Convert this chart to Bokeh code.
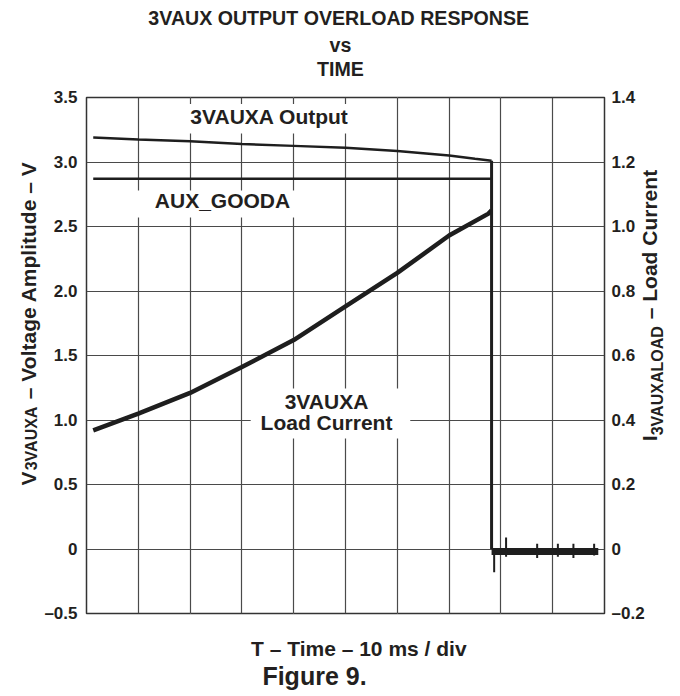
import math
from bokeh.plotting import figure
from bokeh.models import Range1d, LinearAxis, FixedTicker, Label, BoxAnnotation, Grid, Title
from bokeh.embed import file_html
from bokeh.resources import INLINE

# ---------------- data ----------------
# time in divisions (10 ms / div)
t_out = [0.13, 1.0, 2.0, 3.0, 4.0, 5.0, 6.0, 7.0, 7.5, 7.82]
v_out = [3.19, 3.175, 3.16, 3.14, 3.125, 3.11, 3.085, 3.05, 3.025, 3.01]

t_good = [0.13, 2.0, 4.0, 6.0, 7.82]
v_good = [2.87, 2.87, 2.87, 2.87, 2.87]

t_cur = [0.13, 1.0, 2.0, 3.0, 4.0, 5.0, 6.0, 7.0, 7.76, 7.82]
i_cur = [0.368, 0.42, 0.484, 0.564, 0.648, 0.752, 0.856, 0.972, 1.04, 1.05]

t_drop = 7.82
t_tail = [7.82, 9.88]
v_tail = [-0.02, -0.02]

spike_t = [7.87, 8.1, 8.7, 9.1, 9.4, 9.8]
spike_hi = [0.0, 0.09, 0.04, 0.04, 0.04, 0.04]
spike_lo = [-0.18, -0.06, -0.07, -0.06, -0.07, -0.05]

y_ticks = [-0.5, 0.0, 0.5, 1.0, 1.5, 2.0, 2.5, 3.0, 3.5]
y_labels = ["\u20130.5", "0", "0.5", "1.0", "1.5", "2.0", "2.5", "3.0", "3.5"]
r_ticks = [-0.2, 0.0, 0.2, 0.4, 0.6, 0.8, 1.0, 1.2, 1.4]
r_labels = ["\u20130.2", "0", "0.2", "0.4", "0.6", "0.8", "1.0", "1.2", "1.4"]
x_ticks = list(range(11))

TITLE_LINES = ["3VAUX OUTPUT OVERLOAD RESPONSE", "vs", "TIME"]
XLABEL = "T \u2013 Time \u2013 10 ms / div"
CAPTION = "Figure 9."
LEFT_PARTS = ["V", "3VAUXA", "\u2013 Voltage Amplitude \u2013 V"]
RIGHT_PARTS = ["I", "3VAUXALOAD", "\u2013 Load Current"]

FONT = "Liberation Sans"
INK = "#231f20"

p = figure(width=679, height=692, x_range=Range1d(0, 10), y_range=Range1d(-0.5, 3.5),
           output_backend="svg", toolbar_location=None, x_axis_location=None,
           min_border_left=86, min_border_right=75, min_border_top=97, min_border_bottom=79)
p.background_fill_color = "white"
p.outline_line_color = "#333333"
p.outline_line_width = 1.5

p.extra_y_ranges = {"cur": Range1d(-0.2, 1.4)}


def style_axis(ax, size, standoff, orient="horizontal"):
    ax.axis_line_color = None
    ax.major_tick_line_color = None
    ax.minor_tick_line_color = None
    ax.major_tick_out = 0
    ax.major_tick_in = 0
    ax.minor_tick_out = 0
    ax.minor_tick_in = 0
    ax.major_label_standoff = standoff
    ax.major_label_text_font = FONT
    ax.major_label_text_font_style = "bold"
    ax.major_label_text_font_size = size
    ax.major_label_text_color = INK
    ax.major_label_orientation = orient


# left value axis
ya = p.yaxis[0]
ya.ticker = FixedTicker(ticks=y_ticks)
ya.major_label_overrides = {k: v for k, v in zip(y_ticks, y_labels)}
style_axis(ya, "17px", 9)

# right value axis
ra = LinearAxis(y_range_name="cur", ticker=FixedTicker(ticks=r_ticks))
ra.major_label_overrides = {k: v for k, v in zip(r_ticks, r_labels)}
style_axis(ra, "17px", 7)
p.add_layout(ra, "right")

# grids
p.ygrid.ticker = FixedTicker(ticks=y_ticks)
p.ygrid.grid_line_color = "#4a4a4a"
p.ygrid.grid_line_width = 1.2
p.add_layout(Grid(dimension=0, ticker=FixedTicker(ticks=x_ticks), grid_line_color="#4a4a4a",
                  grid_line_width=1.2))

# ---- rotated axis titles with subscripts (built from tick labels of helper axes) ----
W = {" ": 278, "\u2013": 556, "V": 667, "o": 611, "l": 278, "t": 333, "a": 556, "g": 611, "e": 556,
     "A": 722, "m": 889, "p": 611, "i": 278, "u": 611, "d": 611, "3": 556, "U": 722, "X": 667,
     "I": 278, "L": 611, "O": 778, "D": 722, "C": 722, "r": 389, "n": 611, "s": 556, "T": 611,
     "E": 667, "R": 722, "S": 667, "P": 667, "N": 722, "v": 556, "M": 833, "F": 611, "9": 556,
     ".": 278, "1": 556, "0": 556, "/": 278}


def tw(s, size):
    return sum(W.get(c, 600) for c in s) * size / 1000.0


def vy(Y):
    return 3.5 - (Y - 97) / 129.0


MAIN, SUB = 21, 16
GAP = tw(" ", MAIN)


def widths(parts):
    return [tw(parts[0], MAIN), tw(parts[1], SUB), tw(parts[2], MAIN)]


# left helper axes: labels end (top) at their tick
lw = widths(LEFT_PARTS)
ltot = sum(lw) + GAP
LB = 323 + ltot / 2.0
l_end = [LB - lw[0], LB - lw[0] - lw[1], LB - ltot]
# right helper axes: labels start (bottom) at their tick
rw = widths(RIGHT_PARTS)
rtot = sum(rw) + GAP
RB = 305 + rtot / 2.0
r_start = [RB, RB - rw[0], RB - rw[0] - rw[1] - GAP]

lsub_t = [vy(l_end[1])]
lsub = LinearAxis(ticker=FixedTicker(ticks=lsub_t))
lsub.major_label_overrides = {lsub_t[0]: LEFT_PARTS[1]}
style_axis(lsub, f"{SUB}px", 10, math.pi / 2)
p.add_layout(lsub, "left")
lmain_t = [vy(l_end[0]), vy(l_end[2])]
lmain = LinearAxis(ticker=FixedTicker(ticks=lmain_t))
lmain.major_label_overrides = {lmain_t[0]: LEFT_PARTS[0], lmain_t[1]: LEFT_PARTS[2]}
style_axis(lmain, f"{MAIN}px", -17, math.pi / 2)
p.add_layout(lmain, "left")

rsub_t = [0.4 * vy(r_start[1])]
rsub = LinearAxis(y_range_name="cur", ticker=FixedTicker(ticks=rsub_t))
rsub.major_label_overrides = {rsub_t[0]: RIGHT_PARTS[1]}
style_axis(rsub, f"{SUB}px", 10, math.pi / 2)
p.add_layout(rsub, "right")
rmain_t = [0.4 * vy(r_start[0]), 0.4 * vy(r_start[2])]
rmain = LinearAxis(y_range_name="cur", ticker=FixedTicker(ticks=rmain_t))
rmain.major_label_overrides = {rmain_t[0]: RIGHT_PARTS[0], rmain_t[1]: RIGHT_PARTS[2]}
style_axis(rmain, f"{MAIN}px", -28, math.pi / 2)
p.add_layout(rmain, "right")

# ---- titles (first added sits nearest the frame) ----
HAS_STANDOFF = "standoff" in Title.properties()


def title(text, side, left_x, size, standoff, color=INK):
    t = Title(text=text, align="left", offset=left_x - 86, text_font=FONT,
              text_font_style="bold", text_font_size=size, text_color=color)
    if HAS_STANDOFF:
        t.standoff = standoff
    p.add_layout(t, side)


T_SIZE = 19.6
title("\u00a0", "above", 340, "10px", 4.5, "white")             # spacer
title(TITLE_LINES[2], "above", 340 - tw("TIME", T_SIZE) / 2, f"{T_SIZE}px", 0)
title(TITLE_LINES[1], "above", 340 - tw("vs", T_SIZE) / 2, f"{T_SIZE}px", 0)
title(TITLE_LINES[0], "above", 339 - tw(TITLE_LINES[0], T_SIZE) / 2, f"{T_SIZE}px", 6)

title("\u00a0", "below", 340, "10px", 7.5, "white")             # spacer
title(XLABEL, "below", 358.5 - tw(XLABEL, 21) / 2, "21px", 0)
title(CAPTION, "below", 314 - tw(CAPTION, 25) / 2, "25px", 1.2)

# white boxes behind in-plot labels
for (l, r, b, t) in [(1.72, 5.29, 3.22, 3.45), (0.85, 4.13, 2.57, 2.78), (3.17, 6.25, 0.857, 1.244)]:
    p.add_layout(BoxAnnotation(left=l, right=r, bottom=b, top=t, fill_color="white", fill_alpha=1.0,
                               line_color=None, level="underlay"))

# traces
TR = "#1e1e1e"
p.line(t_out, v_out, line_color=TR, line_width=2.5)
p.line(t_good, v_good, line_color=TR, line_width=2.5)
p.line(t_cur, i_cur, y_range_name="cur", line_color=TR, line_width=4.5)
p.segment(x0=[t_drop], y0=[v_out[-1]], x1=[t_drop], y1=[0.0], line_color=TR, line_width=3)
p.line(t_tail, v_tail, line_color=TR, line_width=7)
p.segment(x0=spike_t, y0=spike_lo, x1=spike_t, y1=spike_hi, line_color=TR, line_width=2)


def tx(X):
    return (X - 86) / 51.8


def lab(x, y, text, size):
    p.add_layout(Label(x=tx(x), y=vy(y), text=text, text_font=FONT, text_font_style="bold",
                       text_font_size=size, text_color=INK, text_align="center",
                       text_baseline="middle"))


lab(269, 116, "3VAUXA Output", "21px")
lab(222, 200, "AUX_GOODA", "21px")
lab(326, 401, "3VAUXA", "21px")
lab(326, 422, "Load Current", "21px")

open("out.html", "w").write(file_html(p, INLINE))
